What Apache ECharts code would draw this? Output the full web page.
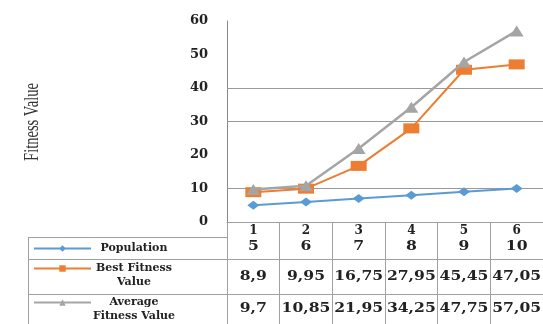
<!DOCTYPE html>
<html><head><meta charset="utf-8">
<script src="https://cdn.jsdelivr.net/npm/echarts@6/dist/echarts.min.js"></script>
<style>html,body{margin:0;padding:0;background:#fff}#c{width:543px;height:324px}</style>
</head><body><div id="c"></div>
<script>
const categories = ['1','2','3','4','5','6'];
const population = [5,6,7,8,9,10];
const bestFitness = [8.9,9.95,16.75,27.95,45.45,47.05];
const avgFitness = [9.7,10.85,21.95,34.25,47.75,57.05];
const seriesNames = ['Population','Best Fitness Value','Average Fitness Value'];
const legendLines = {'Population':['Population'],'Best Fitness Value':['Best Fitness','Value'],'Average Fitness Value':['Average','Fitness Value']};
const yMin = 0, yMax = 60, yStep = 10;
const gridValues = [10,30,40];
const yTitle = 'Fitness Value';
const colors = ['#5b9bd5','#ed7d31','#a5a5a5'];
const fmt = v => String(v).replace('.', ',');

const serif = '"DejaVu Serif", serif';
const chart = echarts.init(document.getElementById('c'), null, {renderer:'canvas'});
const legendTops = [243, 249, 283];
const legendBase = {orient:'vertical', left:33, itemWidth:57, itemHeight:8, height:60, padding:0,
  textStyle:{rich:{t:{width:76, align:'center', fontFamily:serif, fontWeight:'bold', fontSize:11, lineHeight:14, color:'#222'}}}};
const option = {
  animation:false,
  backgroundColor:'#fff',
  grid:{left:227, top:21, width:322, height:201},
  legend: seriesNames.map((n, i) => Object.assign({}, legendBase, {
    top: legendTops[i], data:[n],
    formatter: nm => { const ls = legendLines[nm]; return (ls.length > 1 ? ['{t| }'] : []).concat(ls.map(s => '{t|' + s + '}')).join('\n'); }
  })),
  xAxis:{type:'category', data:categories, boundaryGap:true,
    axisLine:{lineStyle:{color:'#a0a0a0'}},
    axisTick:{show:true, length:102, lineStyle:{color:'#a0a0a0'}},
    axisLabel:{margin:3, fontFamily:serif, fontWeight:'bold', fontSize:12, color:'#222'}},
  yAxis:{type:'value', min:yMin, max:yMax, interval:yStep,
    axisLine:{show:true, lineStyle:{color:'#888'}},
    axisTick:{show:false}, splitLine:{show:false},
    axisLabel:{margin:19, fontFamily:serif, fontWeight:'bold', fontSize:13, color:'#222'}},
  series:[
    {name:seriesNames[0], type:'line', data:population, color:colors[0], symbol:'diamond', symbolSize:[12,9],
     lineStyle:{width:2}, z:3,
     markLine:{silent:true, symbol:'none', label:{show:false}, lineStyle:{color:'#999', type:'solid', width:1},
       data:gridValues.map(v=>({yAxis:v})), z:1}},
    {name:seriesNames[1], type:'line', data:bestFitness, color:colors[1], symbol:'rect', symbolSize:[16,10], lineStyle:{width:2}, z:4},
    {name:seriesNames[2], type:'line', data:avgFitness, color:colors[2], symbol:'triangle', symbolSize:[14,11], lineStyle:{width:2.5}, z:5}
  ]
};
chart.setOption(option);

const rowY = [247, 277, 309];
const rows = [population, bestFitness, avgFitness];
const g = [];
rows.forEach((arr, r) => {
  arr.forEach((v, i) => {
    const x = chart.convertToPixel({xAxisIndex:0}, i);
    g.push({type:'text', x:x, y:rowY[r], scaleX:1.3,
      style:{text:fmt(v), font:'bold 12px ' + serif, fill:'#222', textAlign:'center', textVerticalAlign:'middle', align:'center', verticalAlign:'middle'}});
  });
});
const L = 'rgb(160,160,160)';
[[28,237.5,227,237.5],[28,259.5,549,259.5],[28,294.5,549,294.5],[28.5,237,28.5,324]].forEach(s => {
  g.push({type:'line', shape:{x1:s[0],y1:s[1],x2:s[2],y2:s[3]}, style:{stroke:L, lineWidth:1}});
});
g.push({type:'text', x:32, y:122, rotation:Math.PI/2, scaleX:0.66,
  style:{text:yTitle, font:'22px "Liberation Serif", serif', fill:'#333', textAlign:'center', textVerticalAlign:'middle', align:'center', verticalAlign:'middle'}});
chart.setOption({graphic:g});
</script></body></html>
